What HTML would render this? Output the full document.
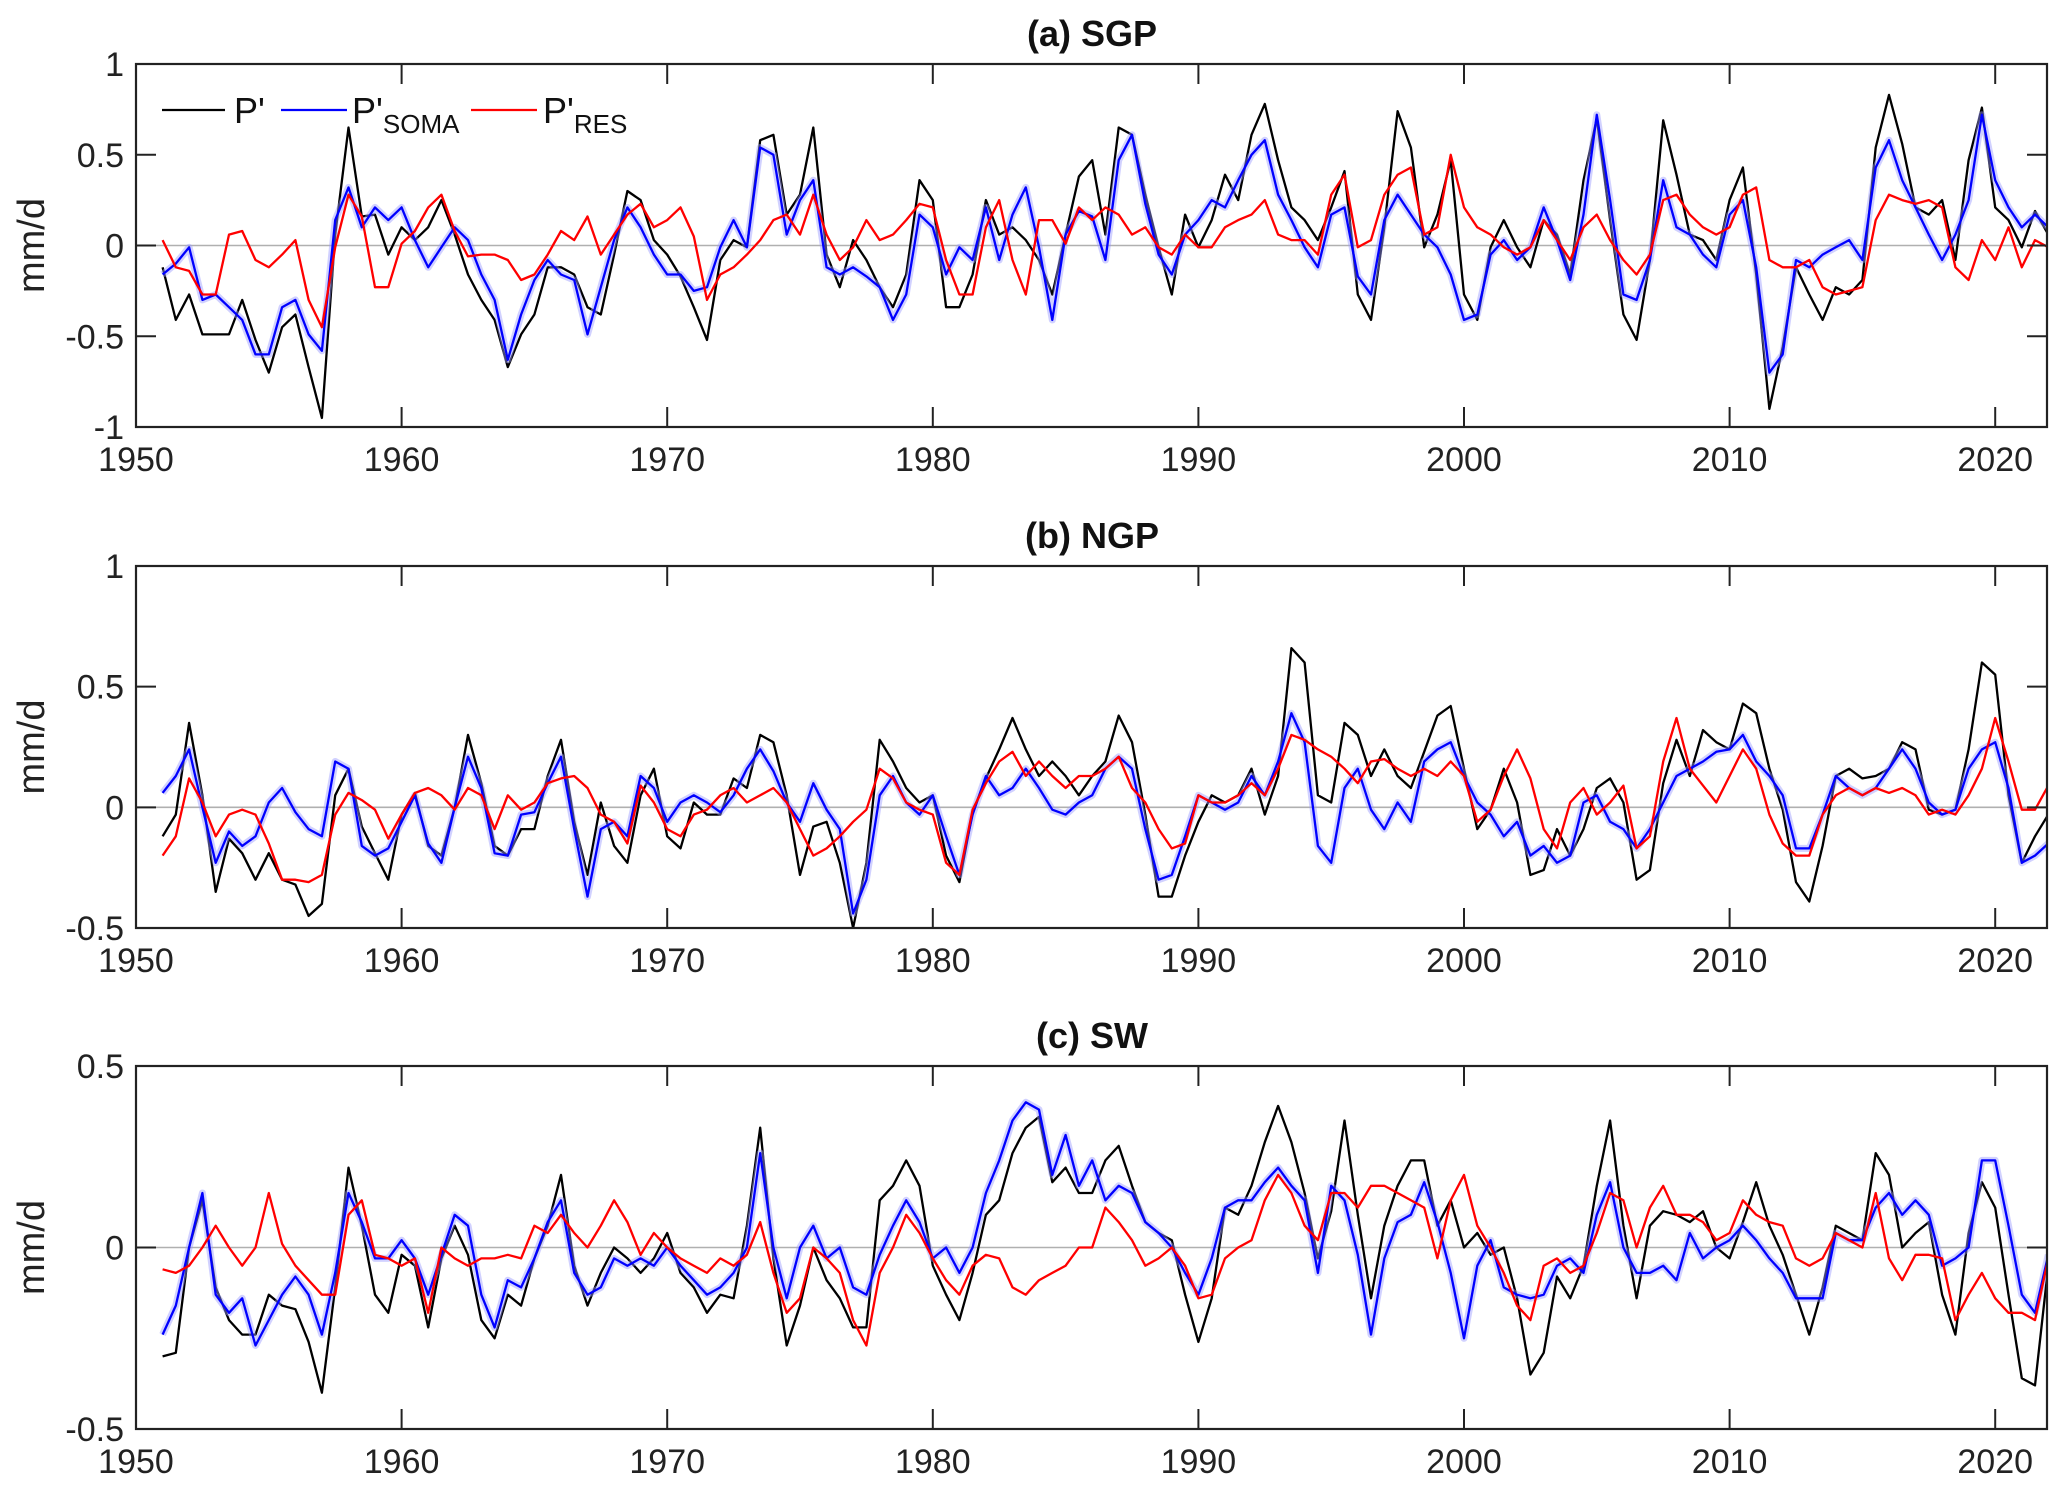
<!DOCTYPE html>
<html><head><meta charset="utf-8"><style>
html,body{margin:0;padding:0;background:#fff;}
svg{display:block;font-family:"Liberation Sans",Arial,sans-serif;}
</style></head><body>
<svg id="chart" width="2067" height="1497" viewBox="0 0 2067 1497" xmlns="http://www.w3.org/2000/svg"></svg>
<script>
const startYear = 1951, endYear = 2022;
const xTicks = [1950,1960,1970,1980,1990,2000,2010,2020];
const panelTitles = ["(a) SGP","(b) NGP","(c) SW"];
const yTicksA = [-1,-0.5,0,0.5,1];
const yTicksB = [-0.5,0,0.5,1];
const yTicksC = [-0.5,0,0.5];
const yTickLabelsA = ["-1","-0.5","0","0.5","1"];
const yTickLabelsB = ["-0.5","0","0.5","1"];
const yTickLabelsC = ["-0.5","0","0.5"];

const aBlack = [-0.12,-0.41,-0.27,-0.49,-0.49,-0.49,-0.3,-0.52,-0.7,-0.45,
-0.38,-0.67,-0.95,0.06,0.65,0.16,0.17,-0.05,0.1,0.03,
0.1,0.25,0.06,-0.16,-0.3,-0.41,-0.67,-0.49,-0.38,-0.12,
-0.12,-0.16,-0.34,-0.38,-0.05,0.3,0.25,0.03,-0.05,-0.17,
-0.34,-0.52,-0.08,0.03,-0.01,0.58,0.61,0.17,0.28,0.65,
-0.05,-0.23,0.03,-0.08,-0.23,-0.34,-0.16,0.36,0.25,-0.34,
-0.34,-0.16,0.25,0.06,0.1,0.03,-0.08,-0.27,0.06,0.38,
0.47,0.06,0.65,0.61,0.28,-0.01,-0.27,0.17,-0.01,0.14,
0.39,0.25,0.61,0.78,0.47,0.21,0.14,0.03,0.21,0.41,
-0.27,-0.41,0.1,0.74,0.54,-0.01,0.17,0.47,-0.27,-0.41,
-0.01,0.14,-0.01,-0.12,0.14,0.06,-0.16,0.36,0.7,0.14,
-0.38,-0.52,-0.08,0.69,0.39,0.06,0.03,-0.08,0.25,0.43,
-0.16,-0.9,-0.56,-0.12,-0.27,-0.41,-0.23,-0.27,-0.19,0.54,
0.83,0.56,0.21,0.17,0.25,-0.08,0.47,0.76,0.21,0.14,
-0.01,0.19,0.06];
const aBlue = [-0.16,-0.1,-0.01,-0.3,-0.27,-0.34,-0.41,-0.6,-0.6,-0.34,
-0.3,-0.49,-0.58,0.14,0.32,0.1,0.21,0.14,0.21,0.03,
-0.12,-0.01,0.1,0.03,-0.16,-0.3,-0.63,-0.38,-0.19,-0.08,
-0.16,-0.19,-0.49,-0.23,0.03,0.21,0.1,-0.05,-0.16,-0.16,
-0.25,-0.23,-0.01,0.14,-0.01,0.54,0.5,0.06,0.25,0.36,
-0.12,-0.16,-0.12,-0.17,-0.23,-0.41,-0.27,0.17,0.1,-0.16,
-0.01,-0.08,0.21,-0.08,0.17,0.32,-0.01,-0.41,0.06,0.19,
0.16,-0.08,0.47,0.61,0.23,-0.05,-0.16,0.06,0.14,0.25,
0.21,0.36,0.5,0.58,0.28,0.14,-0.01,-0.12,0.17,0.21,
-0.17,-0.27,0.14,0.28,0.17,0.06,-0.01,-0.16,-0.41,-0.38,
-0.05,0.03,-0.08,-0.01,0.21,0.03,-0.19,0.17,0.72,0.25,
-0.27,-0.3,-0.08,0.36,0.1,0.06,-0.05,-0.12,0.17,0.25,
-0.12,-0.7,-0.6,-0.08,-0.12,-0.05,-0.01,0.03,-0.08,0.43,
0.58,0.36,0.21,0.06,-0.08,0.06,0.25,0.72,0.36,0.21,
0.1,0.17,0.1];
const aRed = [0.03,-0.12,-0.14,-0.27,-0.27,0.06,0.08,-0.08,-0.12,-0.05,
0.03,-0.3,-0.45,-0.01,0.28,0.16,-0.23,-0.23,0.01,0.08,
0.21,0.28,0.08,-0.06,-0.05,-0.05,-0.08,-0.19,-0.16,-0.05,
0.08,0.03,0.16,-0.05,0.06,0.17,0.23,0.1,0.14,0.21,
0.05,-0.3,-0.16,-0.12,-0.05,0.03,0.14,0.17,0.06,0.28,
0.06,-0.08,-0.01,0.14,0.03,0.06,0.14,0.23,0.21,-0.08,
-0.27,-0.27,0.1,0.25,-0.08,-0.27,0.14,0.14,0.01,0.21,
0.14,0.21,0.17,0.06,0.1,-0.01,-0.05,0.06,-0.01,-0.01,
0.1,0.14,0.17,0.25,0.06,0.03,0.03,-0.05,0.28,0.39,
-0.01,0.03,0.28,0.39,0.43,0.06,0.1,0.5,0.21,0.1,
0.06,-0.01,-0.05,-0.01,0.14,0.03,-0.08,0.1,0.17,0.03,
-0.08,-0.16,-0.05,0.25,0.28,0.17,0.1,0.06,0.1,0.28,
0.32,-0.08,-0.12,-0.12,-0.08,-0.23,-0.27,-0.25,-0.23,0.14,
0.28,0.25,0.23,0.25,0.21,-0.12,-0.19,0.03,-0.08,0.1,
-0.12,0.03,-0.01];

const bBlack = [-0.12,-0.03,0.35,0.05,-0.35,-0.13,-0.19,-0.3,-0.19,-0.3,
-0.32,-0.45,-0.4,0.05,0.16,-0.08,-0.19,-0.3,-0.03,0.06,
-0.16,-0.2,0.0,0.3,0.1,-0.16,-0.2,-0.09,-0.09,0.13,
0.28,-0.06,-0.28,0.02,-0.16,-0.23,0.05,0.16,-0.12,-0.17,
0.02,-0.03,-0.03,0.12,0.08,0.3,0.27,0.05,-0.28,-0.08,
-0.06,-0.23,-0.5,-0.23,0.28,0.19,0.08,0.02,0.05,-0.2,
-0.31,-0.02,0.12,0.24,0.37,0.24,0.13,0.19,0.13,0.05,
0.13,0.19,0.38,0.27,-0.03,-0.37,-0.37,-0.2,-0.06,0.05,
0.02,0.05,0.16,-0.03,0.13,0.66,0.6,0.05,0.02,0.35,
0.3,0.13,0.24,0.13,0.08,0.23,0.38,0.42,0.16,-0.09,
-0.01,0.16,0.02,-0.28,-0.26,-0.09,-0.2,-0.09,0.08,0.12,
0.02,-0.3,-0.26,0.1,0.28,0.13,0.32,0.27,0.24,0.43,
0.39,0.16,-0.01,-0.31,-0.39,-0.16,0.13,0.16,0.12,0.13,
0.16,0.27,0.24,-0.01,-0.03,-0.01,0.24,0.6,0.55,0.05,
-0.23,-0.12,-0.03];
const bBlue = [0.06,0.13,0.24,0.0,-0.23,-0.1,-0.16,-0.12,0.02,0.08,
-0.02,-0.09,-0.12,0.19,0.16,-0.16,-0.2,-0.17,-0.06,0.05,
-0.15,-0.23,0.0,0.21,0.08,-0.19,-0.2,-0.03,-0.02,0.1,
0.21,-0.09,-0.37,-0.09,-0.06,-0.12,0.13,0.08,-0.06,0.02,
0.05,0.02,-0.02,0.05,0.16,0.24,0.15,0.02,-0.06,0.1,
-0.01,-0.09,-0.44,-0.3,0.05,0.13,0.02,-0.03,0.05,-0.12,
-0.28,-0.03,0.13,0.05,0.08,0.16,0.08,-0.01,-0.03,0.02,
0.05,0.16,0.21,0.16,-0.09,-0.3,-0.28,-0.12,0.05,0.02,
-0.01,0.02,0.13,0.05,0.19,0.39,0.27,-0.16,-0.23,0.08,
0.16,-0.01,-0.09,0.02,-0.06,0.19,0.24,0.27,0.13,0.02,
-0.03,-0.12,-0.06,-0.2,-0.16,-0.23,-0.2,0.02,0.05,-0.06,
-0.09,-0.17,-0.09,0.02,0.13,0.16,0.19,0.23,0.24,0.3,
0.19,0.13,0.05,-0.17,-0.17,-0.03,0.13,0.08,0.05,0.08,
0.16,0.24,0.16,0.02,-0.03,-0.01,0.16,0.24,0.27,0.08,
-0.23,-0.2,-0.15];
const bRed = [-0.2,-0.12,0.12,0.02,-0.12,-0.03,-0.01,-0.03,-0.15,-0.3,
-0.3,-0.31,-0.28,-0.03,0.06,0.03,-0.01,-0.13,-0.03,0.06,
0.08,0.05,-0.01,0.08,0.05,-0.09,0.05,-0.01,0.02,0.1,
0.12,0.13,0.08,-0.03,-0.06,-0.15,0.09,0.02,-0.09,-0.12,
-0.03,-0.01,0.05,0.08,0.02,0.05,0.08,0.02,-0.09,-0.2,
-0.17,-0.12,-0.06,-0.01,0.16,0.12,0.02,-0.01,-0.03,-0.23,
-0.28,-0.01,0.1,0.19,0.23,0.13,0.19,0.13,0.08,0.13,
0.13,0.16,0.21,0.08,0.02,-0.09,-0.17,-0.15,0.05,0.02,
0.02,0.05,0.1,0.05,0.16,0.3,0.28,0.24,0.21,0.16,
0.1,0.19,0.2,0.16,0.13,0.16,0.13,0.19,0.13,-0.06,
-0.01,0.13,0.24,0.12,-0.09,-0.17,0.02,0.08,-0.03,0.02,
0.09,-0.17,-0.12,0.19,0.37,0.16,0.09,0.02,0.13,0.24,
0.16,-0.03,-0.15,-0.2,-0.2,-0.03,0.05,0.08,0.05,0.08,
0.06,0.08,0.05,-0.03,-0.01,-0.03,0.05,0.16,0.37,0.19,
-0.01,-0.01,0.09];

const cBlack = [-0.3,-0.29,0.0,0.13,-0.11,-0.2,-0.24,-0.24,-0.13,-0.16,
-0.17,-0.26,-0.4,-0.11,0.22,0.06,-0.13,-0.18,-0.02,-0.05,
-0.22,-0.03,0.06,-0.02,-0.2,-0.25,-0.13,-0.16,-0.03,0.06,
0.2,-0.05,-0.16,-0.07,0.0,-0.03,-0.07,-0.03,0.04,-0.07,
-0.11,-0.18,-0.13,-0.14,0.06,0.33,-0.03,-0.27,-0.16,0.0,
-0.09,-0.14,-0.22,-0.22,0.13,0.17,0.24,0.17,-0.05,-0.13,
-0.2,-0.07,0.09,0.13,0.26,0.33,0.36,0.18,0.22,0.15,
0.15,0.24,0.28,0.17,0.07,0.04,0.02,-0.13,-0.26,-0.14,
0.11,0.09,0.17,0.29,0.39,0.29,0.15,-0.03,0.1,0.35,
0.09,-0.14,0.06,0.17,0.24,0.24,0.06,0.13,0.0,0.04,
-0.02,0.0,-0.14,-0.35,-0.29,-0.08,-0.14,-0.05,0.17,0.35,
0.06,-0.14,0.06,0.1,0.09,0.07,0.1,0.0,-0.03,0.07,
0.18,0.06,-0.02,-0.13,-0.24,-0.11,0.06,0.04,0.02,0.26,
0.2,0.0,0.04,0.07,-0.13,-0.24,0.04,0.18,0.11,-0.13,
-0.36,-0.38,-0.05];
const cBlue = [-0.24,-0.16,0.0,0.15,-0.13,-0.18,-0.14,-0.27,-0.2,-0.13,
-0.08,-0.13,-0.24,-0.07,0.15,0.07,-0.03,-0.03,0.02,-0.03,
-0.13,-0.02,0.09,0.06,-0.13,-0.22,-0.09,-0.11,-0.03,0.07,
0.13,-0.07,-0.13,-0.11,-0.03,-0.05,-0.03,-0.05,0.0,-0.05,
-0.09,-0.13,-0.11,-0.07,0.0,0.26,0.0,-0.14,0.0,0.06,
-0.03,0.0,-0.11,-0.13,-0.02,0.06,0.13,0.07,-0.03,0.0,
-0.07,0.0,0.15,0.24,0.35,0.4,0.38,0.2,0.31,0.17,
0.24,0.13,0.17,0.15,0.07,0.04,0.0,-0.07,-0.13,-0.03,
0.11,0.13,0.13,0.18,0.22,0.17,0.13,-0.07,0.17,0.13,
-0.02,-0.24,-0.03,0.07,0.09,0.18,0.07,-0.07,-0.25,-0.05,
0.02,-0.11,-0.13,-0.14,-0.13,-0.05,-0.03,-0.07,0.09,0.18,
0.0,-0.07,-0.07,-0.05,-0.09,0.04,-0.03,0.0,0.02,0.06,
0.02,-0.03,-0.07,-0.14,-0.14,-0.14,0.04,0.02,0.02,0.11,
0.15,0.09,0.13,0.09,-0.05,-0.03,0.0,0.24,0.24,0.06,
-0.13,-0.18,-0.02];
const cRed = [-0.06,-0.07,-0.05,0.0,0.06,0.0,-0.05,0.0,0.15,0.01,
-0.05,-0.09,-0.13,-0.13,0.09,0.13,-0.02,-0.03,-0.05,-0.03,
-0.18,0.0,-0.03,-0.05,-0.03,-0.03,-0.02,-0.03,0.06,0.04,
0.09,0.04,0.0,0.06,0.13,0.07,-0.02,0.04,0.0,-0.03,
-0.05,-0.07,-0.03,-0.05,-0.02,0.07,-0.07,-0.18,-0.14,0.0,
-0.03,-0.07,-0.2,-0.27,-0.07,0.0,0.09,0.04,-0.03,-0.09,
-0.13,-0.05,-0.02,-0.03,-0.11,-0.13,-0.09,-0.07,-0.05,0.0,
0.0,0.11,0.07,0.02,-0.05,-0.03,0.0,-0.05,-0.14,-0.13,
-0.03,0.0,0.02,0.13,0.2,0.15,0.06,0.02,0.15,0.15,
0.11,0.17,0.17,0.15,0.13,0.11,-0.03,0.13,0.2,0.06,
0.0,-0.07,-0.16,-0.2,-0.05,-0.03,-0.07,-0.05,0.04,0.15,
0.13,0.0,0.11,0.17,0.09,0.09,0.07,0.02,0.04,0.13,
0.09,0.07,0.06,-0.03,-0.05,-0.03,0.04,0.02,0.0,0.15,
-0.03,-0.09,-0.02,-0.02,-0.03,-0.2,-0.13,-0.07,-0.14,-0.18,
-0.18,-0.2,-0.03];

const NS = "http://www.w3.org/2000/svg";
const svg = document.getElementById('chart');
function mk(tag, attrs, parent){
  const e = document.createElementNS(NS, tag);
  for (const k in attrs) e.setAttribute(k, attrs[k]);
  (parent||svg).appendChild(e);
  return e;
}
const L = 136, R = 2047, X0 = 1950, X1 = 2021.95;
function xScale(yr){ return L + (yr - X0) / (X1 - X0) * (R - L); }

const panels = [
  {key:'a', top:64, bottom:427, ymin:-1, ymax:1, ticks:yTicksA, labels:yTickLabelsA, s:[aBlack,aBlue,aRed]},
  {key:'b', top:566, bottom:928, ymin:-0.5, ymax:1, ticks:yTicksB, labels:yTickLabelsB, s:[bBlack,bBlue,bRed]},
  {key:'c', top:1066, bottom:1429, ymin:-0.5, ymax:0.5, ticks:yTicksC, labels:yTickLabelsC, s:[cBlack,cBlue,cRed]}
];
const colors = ['#000000','#0000ff','#ff0000'];
const seriesNames = ['p-prime','p-soma','p-res'];

panels.forEach((p, pi) => {
  const g = mk('g', {});
  
  
  const yScale = v => p.bottom - (v - p.ymin) / (p.ymax - p.ymin) * (p.bottom - p.top);
  const clipId = 'clip' + p.key;
  const cp = mk('clipPath', {id: clipId}, g);
  mk('rect', {x:L, y:p.top, width:R-L, height:p.bottom-p.top}, cp);

  const z = mk('line', {x1:L, x2:R, y1:yScale(0), y2:yScale(0), stroke:'#b0b0b0', 'stroke-width':1.6}, g);
  
  

  const sg = mk('g', {'clip-path':'url(#' + clipId + ')'}, g);
  [0,1,2].forEach(si => {
    const arr = p.s[si];
    const n = arr.length;
    const pts = arr.map((v, i) => xScale(startYear + i * (endYear - startYear) / (n - 1)).toFixed(1) + ',' + yScale(v).toFixed(1)).join(' ');
    if (si === 1) {
      const band = mk('polyline', {points: pts, fill:'none', stroke:'#9a9aff', 'stroke-width':7, 'stroke-opacity':0.45, 'stroke-linejoin':'round'}, sg);
      
      
    }
    const line = mk('polyline', {points: pts, fill:'none', stroke: colors[si], 'stroke-width':2.3, 'stroke-linejoin':'round'}, sg);
    
    
  });

  const box = mk('rect', {x:L, y:p.top, width:R-L, height:p.bottom-p.top, fill:'none', stroke:'#222', 'stroke-width':2.2}, g);
  
  

  xTicks.forEach(t => {
    const x = xScale(t);
    mk('line', {x1:x, x2:x, y1:p.bottom, y2:p.bottom-20, stroke:'#222', 'stroke-width':2}, g);
    mk('line', {x1:x, x2:x, y1:p.top, y2:p.top+20, stroke:'#222', 'stroke-width':2}, g);
    const tx = mk('text', {x:x, y:p.bottom+44, 'text-anchor':'middle', 'font-size':34, fill:'#222'}, g);
    tx.textContent = t;
    
    
  });
  p.ticks.forEach((t, ti) => {
    const y = yScale(t);
    mk('line', {x1:L, x2:L+20, y1:y, y2:y, stroke:'#222', 'stroke-width':2}, g);
    mk('line', {x1:R, x2:R-20, y1:y, y2:y, stroke:'#222', 'stroke-width':2}, g);
    const ty = mk('text', {x:L-12, y:y+12, 'text-anchor':'end', 'font-size':34, fill:'#222'}, g);
    ty.textContent = p.labels[ti];
    
    
  });
  const cy = (p.top + p.bottom) / 2;
  const yt = mk('text', {x:0, y:0, transform:'translate(44,' + cy + ') rotate(-90)', 'text-anchor':'middle', 'font-size':38, fill:'#222'}, g);
  yt.textContent = 'mm/d';
  
  
  const tt = mk('text', {x:1092, y:p.top-18, 'text-anchor':'middle', 'font-size':36, 'font-weight':'bold', fill:'#111'}, g);
  tt.textContent = panelTitles[pi];
  
  
});

const lg = mk('g', {});


const legendItems = [
  {x1:162, x2:225, tx:234, label:"P'", sub:'', c:'#000'},
  {x1:281, x2:347, tx:352, label:"P'", sub:'SOMA', c:'#0000ff'},
  {x1:471, x2:537, tx:543, label:"P'", sub:'RES', c:'#ff0000'}
];
legendItems.forEach(it => {
  const eg = mk('g', {}, lg);
  
  
  mk('line', {x1:it.x1, x2:it.x2, y1:110, y2:110, stroke:it.c, 'stroke-width':2.3}, eg);
  const t = mk('text', {x:it.tx, y:123, 'font-size':36, fill:'#111'}, eg);
  t.textContent = it.label;
  if (it.sub) {
    const s = mk('tspan', {dy:10, 'font-size':26}, t);
    s.textContent = it.sub;
  }
});
</script>
</body></html>
